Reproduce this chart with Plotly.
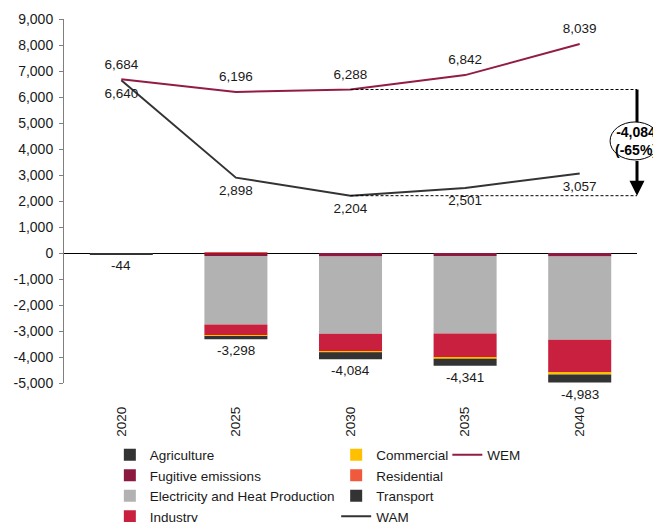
import plotly.graph_objects as go

years = ['2020', '2025', '2030', '2035', '2040']

# sector contributions (WAM vs WEM difference)
agriculture = [0, 0, 0, 0, 0]
fugitive = [0, -120, -130, -120, -130]
electricity = [0, -2630, -2980, -2975, -3210]
industry = [0, -420, -680, -925, -1255]
commercial = [0, -20, -30, -50, -75]
residential = [0, 20, 0, 0, 0]
transport = [-44, -128, -264, -271, -313]
totals = [-44, -3298, -4084, -4341, -4983]

wem = [6684, 6196, 6288, 6842, 8039]
wam = [6640, 2898, 2204, 2501, 3057]

ytick_vals = [9000, 8000, 7000, 6000, 5000, 4000, 3000, 2000, 1000, 0,
              -1000, -2000, -3000, -4000, -5000]
ytick_text = ['9,000', '8,000', '7,000', '6,000', '5,000', '4,000', '3,000', '2,000', '1,000', '0',
              '-1,000', '-2,000', '-3,000', '-4,000', '-5,000']

gap_label = '<b>-4,084<br>(-65%)</b>'

FONT = 'Liberation Sans, Arial, sans-serif'
TXT = '#1a1a1a'

xpos = list(range(len(years)))

fig = go.Figure()

sectors = [
    ('Agriculture', agriculture, '#333333', 'legend'),
    ('Fugitive emissions', fugitive, '#8c1a40', 'legend'),
    ('Electricity and Heat Production', electricity, '#b2b2b2', 'legend'),
    ('Industry', industry, '#c8203e', 'legend'),
    ('Commercial', commercial, '#ffc000', 'legend2'),
    ('Residential', residential, '#f05a3c', 'legend2'),
    ('Transport', transport, '#333333', 'legend2'),
]
for name, vals, col, lg in sectors:
    fig.add_trace(go.Bar(x=xpos, y=vals, name=name, marker_color=col,
                         marker_line_width=0, legend=lg))

# invisible markers just push the value labels away from the line
fig.add_trace(go.Scatter(x=xpos, y=wam, name='WAM', mode='lines+markers+text',
                         line=dict(color='#333333', width=2),
                         marker=dict(size=10, color='rgba(0,0,0,0)'),
                         text=[f'{v:,}' for v in wam], textposition='bottom center',
                         textfont=dict(size=13.5, color=TXT), legend='legend2'))
fig.add_trace(go.Scatter(x=xpos, y=wem, name='WEM', mode='lines+markers+text',
                         line=dict(color='#921c45', width=2),
                         marker=dict(size=10, color='rgba(0,0,0,0)'),
                         text=[f'{v:,}' for v in wem], textposition='top center',
                         textfont=dict(size=13.5, color=TXT), legend='legend3'))

# totals below the bars
for i, t in zip(xpos, totals):
    fig.add_annotation(x=i, y=t, text=f'{t:,}', showarrow=False,
                       yanchor='top', yshift=-2, font=dict(size=13.5, color=TXT))

# gap between WEM and WAM in 2030
fig.add_shape(type='line', x0=2, x1=4.5, y0=wem[2], y1=wem[2],
              line=dict(color='black', width=1, dash='3px,2px'))
fig.add_shape(type='line', x0=2, x1=4.5, y0=wam[2], y1=wam[2],
              line=dict(color='black', width=1, dash='3px,2px'))
fig.add_shape(type='line', xref='paper', x0=1, x1=1, y0=wem[2], y1=5000,
              line=dict(color='black', width=3))
fig.add_annotation(x=4.5, y=wam[2], ax=4.5, ay=3600, xref='x', axref='x',
                   yref='y', ayref='y', text='', showarrow=True,
                   arrowhead=2, arrowsize=1, arrowwidth=3, arrowcolor='black')
fig.add_shape(type='circle', xref='paper', x0=0.953, x1=1.04, y0=3580, y1=5040,
              line=dict(color='black', width=1), fillcolor='white', layer='above')
fig.add_annotation(x=0.998, xref='paper', y=4310, xanchor='center', text=gap_label,
                   showarrow=False, font=dict(size=14, color='black'))

leg = dict(y=-0.155, xanchor='left', yanchor='top', bgcolor='rgba(0,0,0,0)',
           font=dict(size=13.5), tracegroupgap=0)

# the page adds an 8px body margin, so the figure is 8px smaller and margins shifted
fig.update_layout(
    width=653, height=514,
    margin=dict(l=56, r=24, t=11, b=139, autoexpand=False),
    plot_bgcolor='white', paper_bgcolor='white',
    font=dict(family=FONT, size=14, color=TXT),
    barmode='relative', bargap=0.45,
    showlegend=True,
    legend=dict(x=0.080, **leg),
    legend2=dict(x=0.475, **leg),
    legend3=dict(x=0.669, **leg),
)
fig.update_xaxes(range=[-0.5, 4.5], tickvals=xpos, ticktext=years, tickangle=-90,
                 showgrid=False, showline=False, zeroline=False, ticks='',
                 ticklabelstandoff=20, automargin=False, tickfont=dict(size=13.5))
fig.update_yaxes(range=[-5000, 9000], tickvals=ytick_vals, ticktext=ytick_text,
                 showgrid=False, showline=True, linecolor='#7f7f7f', linewidth=1,
                 ticks='outside', ticklen=4, tickcolor='#7f7f7f', automargin=False,
                 ticklabelstandoff=3,
                 zeroline=True, zerolinecolor='black', zerolinewidth=1,
                 tickfont=dict(size=14))

fig.write_html("out.html")
